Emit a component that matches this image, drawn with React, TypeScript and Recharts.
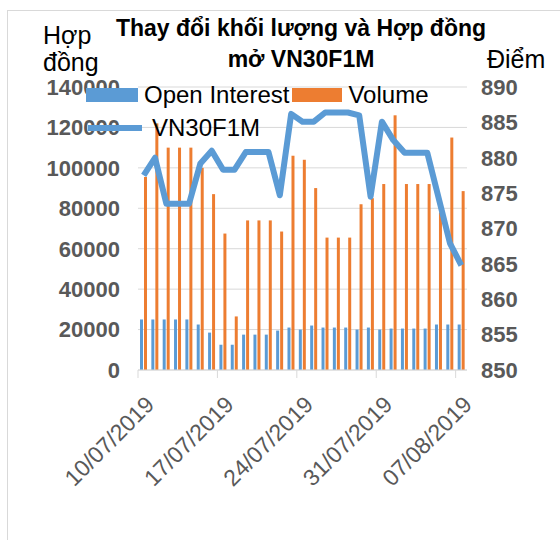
import React from 'react';
import {
    ComposedChart,
    Bar,
    Line,
    XAxis,
    YAxis,
    CartesianGrid,
    Legend,
} from 'recharts';

const dates = [
    '10/07/2019', '11/07/2019', '12/07/2019', '13/07/2019', '14/07/2019', '15/07/2019', '16/07/2019',
    '17/07/2019', '18/07/2019', '19/07/2019', '20/07/2019', '21/07/2019', '22/07/2019', '23/07/2019',
    '24/07/2019', '25/07/2019', '26/07/2019', '27/07/2019', '28/07/2019', '29/07/2019', '30/07/2019',
    '31/07/2019', '01/08/2019', '02/08/2019', '03/08/2019', '04/08/2019', '05/08/2019', '06/08/2019',
    '07/08/2019',
];

const openInterest = [
    25000, 25000, 25000, 25000, 25000, 22500, 18500,
    12500, 12500, 17500, 17500, 17500, 19500, 21000,
    20000, 22000, 21000, 21000, 21000, 20000, 21000,
    20000, 20500, 20500, 20500, 20500, 22500, 22500,
    22500,
];

const volume = [
    95500, 122000, 110000, 110000, 110000, 100000, 87000,
    67500, 26500, 74000, 74000, 74000, 68500, 106000,
    104000, 90000, 65500, 65500, 65500, 82000, 85000,
    92000, 126000, 92000, 92000, 92000, 78000, 115000,
    88500,
];

const vn30 = [
    877.5, 880.0, 873.5, 873.5, 873.5, 879.2, 881.0,
    878.3, 878.3, 880.8, 880.8, 880.8, 874.7, 886.2,
    885.1, 885.1, 886.4, 886.4, 886.4, 886.0, 874.5,
    885.1, 882.5, 880.7, 880.7, 880.7, 874.3, 867.9,
    864.8,
];

const leftTicks = [0, 20000, 40000, 60000, 80000, 100000, 120000, 140000];
const rightTicks = [850, 855, 860, 865, 870, 875, 880, 885, 890];

const BLUE = '#5B9BD5';
const ORANGE = '#ED7D31';
const FONT = '"Liberation Sans", Arial, sans-serif';

const data = dates.map((d, i) => ({
    date: d,
    oi: openInterest[i],
    vol: volume[i],
    vn30: vn30[i],
}));

const W = 560;
const H = 540;
const LEFT_W = 138;
const RIGHT_W = 93;
const band = (W - LEFT_W - RIGHT_W) / dates.length;

// date labels sit at the category centre, tick marks on the category edge
const DateTick = ({ x, y, payload }: any) => (
    <g>
        <line x1={x - band / 2} y1={y} x2={x - band / 2} y2={y + 8} stroke="#d9d9d9" strokeWidth={1} />
        <text
            x={x + 12}
            y={y + 36}
            transform={`rotate(-45 ${x + 12} ${y + 36})`}
            textAnchor="end"
            fill="#595959"
            fontSize={23}
            fontFamily={FONT}
        >
            {payload.value}
        </text>
    </g>
);

const LegendBox = () => (
    <div style={{ fontFamily: FONT, fontSize: 24, color: '#000', lineHeight: '26px' }}>
        <div style={{ display: 'flex', alignItems: 'center' }}>
            <span style={{ display: 'inline-block', width: 52, height: 14, background: BLUE, marginRight: 6 }} />
            <span>Open Interest</span>
            <span style={{ display: 'inline-block', width: 50, height: 14, background: ORANGE, margin: '0 6px 0 3px' }} />
            <span>Volume</span>
        </div>
        <div style={{ display: 'flex', alignItems: 'center', marginTop: 7 }}>
            <span style={{ display: 'inline-block', width: 54, height: 6, background: BLUE, marginRight: 10, marginLeft: 2 }} />
            <span>VN30F1M</span>
        </div>
    </div>
);

export default function App() {
    return (
        <div style={{ position: 'absolute', left: 0, top: 0, width: W, height: H, background: '#fff', overflow: 'hidden' }}>
            <div style={{
                position: 'absolute', left: 7, top: 10, width: W - 8, height: H - 11,
                borderLeft: '1px solid #d9d9d9', borderTop: '1px solid #d9d9d9',
            }} />
            <div style={{
                position: 'absolute', left: 90, width: 422, top: 13, textAlign: 'center',
                fontFamily: FONT, fontWeight: 'bold', fontSize: 23, lineHeight: '31px', color: '#000',
            }}>
                Thay đổi khối lượng và Hợp đồng<br />mở VN30F1M
            </div>
            <div style={{ position: 'absolute', left: 43, top: 22, fontFamily: FONT, fontSize: 25, lineHeight: '27px', color: '#000' }}>
                Hợp<br />đồng
            </div>
            <div style={{ position: 'absolute', left: 487, top: 45, fontFamily: FONT, fontSize: 25, color: '#000' }}>
                Điểm
            </div>
            <ComposedChart
                width={W}
                height={H}
                data={data}
                margin={{ top: 87, right: 0, bottom: 140, left: 0 }}
                barSize={3}
                barGap={1}
                style={{ position: 'absolute', left: 0, top: 0 }}
            >
                <CartesianGrid yAxisId="left" vertical={false} stroke="#d9d9d9" />
                <XAxis
                    dataKey="date"
                    interval={6}
                    height={30}
                    tickSize={0}
                    tickMargin={0}
                    tickLine={false}
                    axisLine={{ stroke: '#d9d9d9' }}
                    tick={<DateTick />}
                />
                <YAxis
                    yAxisId="left"
                    width={LEFT_W}
                    domain={[0, 140000]}
                    ticks={leftTicks}
                    axisLine={false}
                    tickLine={false}
                    tickMargin={12}
                    tick={{ fill: '#595959', fontSize: 22, fontWeight: 'bold', fontFamily: FONT }}
                />
                <YAxis
                    yAxisId="right"
                    orientation="right"
                    width={RIGHT_W}
                    domain={[850, 890]}
                    ticks={rightTicks}
                    axisLine={false}
                    tickLine={false}
                    tickMargin={8}
                    tick={{ fill: '#595959', fontSize: 22, fontWeight: 'bold', fontFamily: FONT }}
                />
                <Legend
                    layout="vertical"
                    align="center"
                    verticalAlign="middle"
                    content={<LegendBox />}
                    wrapperStyle={{ position: 'absolute', left: 86, top: 82, width: 400 }}
                />
                <Bar yAxisId="left" dataKey="oi" name="Open Interest" fill={BLUE} isAnimationActive={false} />
                <Bar yAxisId="left" dataKey="vol" name="Volume" fill={ORANGE} isAnimationActive={false} />
                <Line
                    yAxisId="right"
                    type="linear"
                    dataKey="vn30"
                    name="VN30F1M"
                    stroke={BLUE}
                    strokeWidth={6}
                    strokeLinejoin="round"
                    dot={false}
                    isAnimationActive={false}
                />
            </ComposedChart>
        </div>
    );
}
